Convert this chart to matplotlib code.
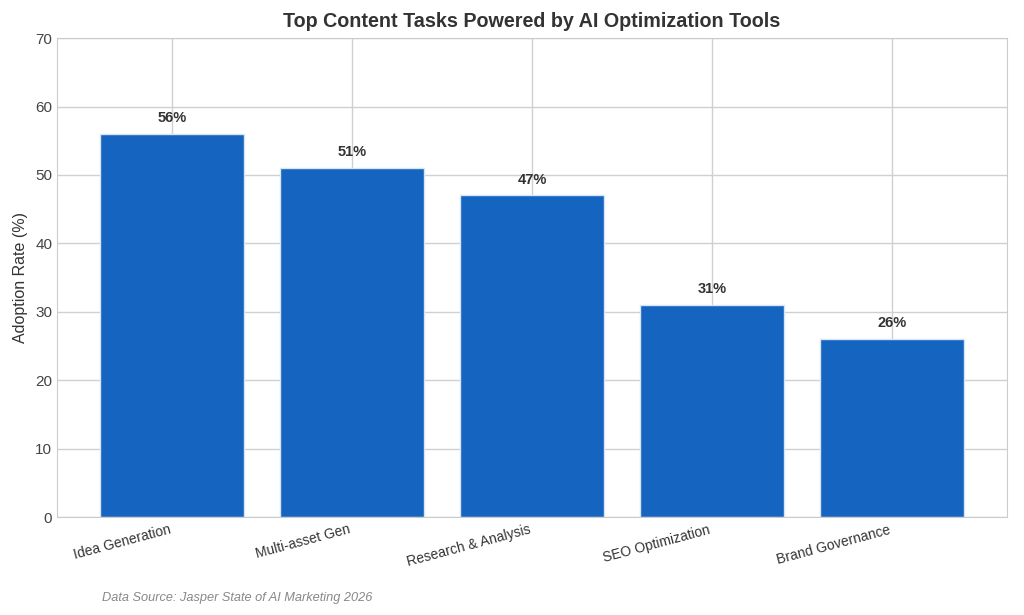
import matplotlib.pyplot as plt
import seaborn as sns

tasks = ["Idea Generation", "Multi-asset Gen", "Research & Analysis",
         "SEO Optimization", "Brand Governance"]
adoption = [56, 51, 47, 31, 26]
yticks = [0, 10, 20, 30, 40, 50, 60, 70]

sns.set_style("whitegrid")
plt.rcParams['font.family'] = ['Liberation Sans', 'DejaVu Sans']

fig, ax = plt.subplots(figsize=(10.24, 6.15), dpi=100)
fig.subplots_adjust(left=0.0557, right=0.9834, top=0.938, bottom=0.1593)

bars = ax.bar(tasks, adoption, width=0.8, color="#1565C0", edgecolor="#d6e4f5", linewidth=1)

# value labels above bars
for bar, v in zip(bars, adoption):
    ax.text(bar.get_x() + bar.get_width() / 2, v + 1.3, f"{v}%",
            ha="center", va="bottom", fontsize=10.5, fontweight="bold", color="#333333")

ax.set_ylim(0, 70)
ax.set_yticks(yticks)
ax.set_ylabel("Adoption Rate (%)", fontsize=11.5, color="#333333", labelpad=5)
ax.set_title("Top Content Tasks Powered by AI Optimization Tools",
             fontsize=14.2, fontweight="bold", color="#333333", pad=8)
ax.tick_params(axis="y", labelsize=11, colors="#444444", length=0, pad=3.5)
ax.tick_params(axis="x", labelsize=10, colors="#333333", length=0, pad=4)
plt.setp(ax.get_xticklabels(), rotation=15, ha="right")
for s in ax.spines.values():
    s.set_color("#cccccc")
ax.grid(color="#d0d0d0", linewidth=1)
ax.set_axisbelow(True)

fig.text(0.1, 0.022, "Data Source: Jasper State of AI Marketing 2026",
         fontsize=9.2, style="italic", color="#888888")

fig.savefig("out.png", dpi=100)
